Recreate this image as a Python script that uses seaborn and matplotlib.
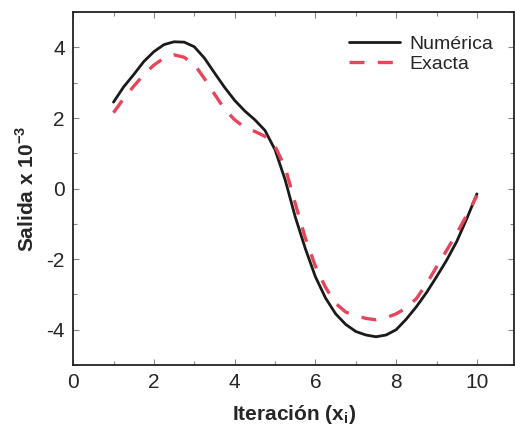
import numpy as np
import pandas as pd
import matplotlib
matplotlib.use("Agg")
import matplotlib.pyplot as plt
import seaborn as sns
from matplotlib.ticker import MultipleLocator

# valores (salida x 10^-3)
iteracion = [1.0, 1.25, 1.5, 1.75, 2.0, 2.25, 2.5, 2.75, 3.0, 3.25, 3.5, 3.75,
             4.0, 4.25, 4.5, 4.75, 5.0, 5.25, 5.5, 5.75, 6.0, 6.25, 6.5, 6.75,
             7.0, 7.25, 7.5, 7.75, 8.0, 8.25, 8.5, 8.75, 9.0, 9.25, 9.5, 9.75, 10.0]

numerica = [2.45, 2.88, 3.23, 3.6, 3.88, 4.08, 4.16, 4.15, 4.02, 3.7, 3.28, 2.87,
            2.5, 2.2, 1.95, 1.65, 1.1, 0.25, -0.8, -1.7, -2.5, -3.1, -3.55, -3.85,
            -4.05, -4.15, -4.2, -4.15, -4.0, -3.7, -3.35, -2.95, -2.5, -2.03, -1.5, -0.85, -0.15]

exacta = [2.15, 2.55, 2.9, 3.23, 3.5, 3.7, 3.79, 3.72, 3.52, 3.12, 2.68, 2.25,
          1.95, 1.73, 1.62, 1.48, 1.2, 0.6, -0.42, -1.4, -2.2, -2.8, -3.25, -3.5,
          -3.6, -3.68, -3.72, -3.66, -3.55, -3.38, -3.12, -2.7, -2.22, -1.75, -1.27, -0.75, -0.2]

df = pd.DataFrame({"x": iteracion, "Numérica": numerica, "Exacta": exacta})

sns.set_style("ticks")
plt.rcParams["font.family"] = ["Liberation Sans", "DejaVu Sans"]
plt.rcParams["mathtext.fontset"] = "custom"
plt.rcParams["mathtext.rm"] = "Liberation Sans"
plt.rcParams["mathtext.bf"] = "Liberation Sans:bold"
plt.rcParams["axes.unicode_minus"] = False

fig = plt.figure(figsize=(5.15, 4.34), dpi=100)
ax = fig.add_axes([0.142, 0.159, 0.857, 0.813])

sns.lineplot(data=df, x="x", y="Numérica", color="#1a1a1a", linewidth=2.0,
             label="Numérica", solid_joinstyle="round", ax=ax)
sns.lineplot(data=df, x="x", y="Exacta", color="#e8455a", linewidth=2.4,
             linestyle=(0, (4.5, 4)), label="Exacta", ax=ax)

ax.set_xlim(0, 10.93)
ax.set_ylim(-5, 5)
ax.set_xticks([0, 2, 4, 6, 8, 10])
ax.set_yticks([-4, -2, 0, 2, 4])
ax.xaxis.set_minor_locator(MultipleLocator(1))
ax.yaxis.set_minor_locator(MultipleLocator(1))
ax.tick_params(which="both", direction="in", top=True, right=True,
               labelsize=15, pad=6)
ax.tick_params(which="major", length=4, width=0.8, color="#888888")
ax.tick_params(which="minor", length=3, width=0.8, color="#888888")

for s in ax.spines.values():
    s.set_linewidth(1.3)
    s.set_color("#222222")

ax.set_xlabel("Iteración (x$_\\mathbf{i}$)", fontsize=15, fontweight="bold", labelpad=8)
ax.set_ylabel("Salida x 10$^{\\mathbf{-3}}$", fontsize=15, fontweight="bold", labelpad=6)

ax.legend(loc="upper left", bbox_to_anchor=(0.625, 0.935), frameon=False,
          fontsize=14, handlelength=2.6, handletextpad=0.5, borderpad=0,
          borderaxespad=0, labelspacing=0.15)

fig.savefig("out.png", dpi=100)
